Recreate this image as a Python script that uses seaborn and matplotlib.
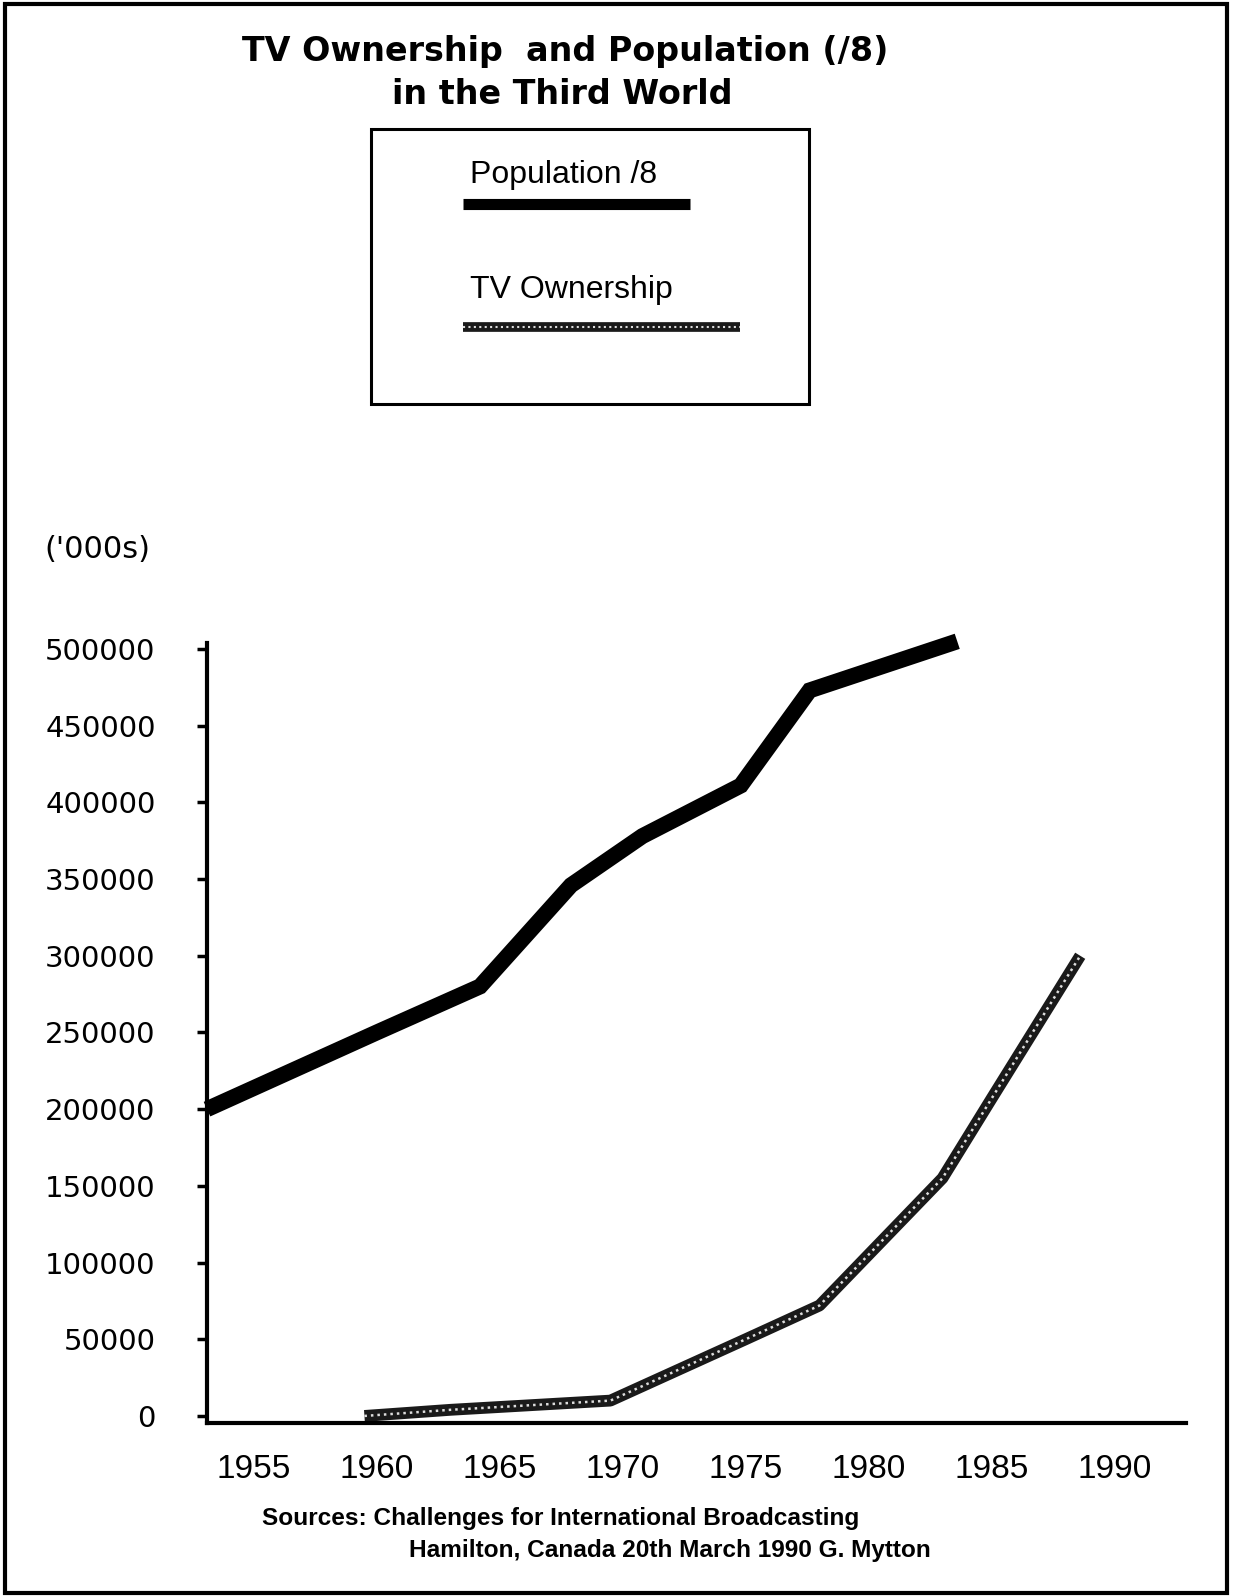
import matplotlib
matplotlib.use("Agg")
import matplotlib.pyplot as plt
import seaborn as sns
import numpy as np
import pandas as pd
from matplotlib.patches import Rectangle
from matplotlib.lines import Line2D

# ---- data ----
pop_years = [1953.1, 1960, 1964.2, 1967.9, 1970.8, 1974.8, 1977.6, 1983.6]
pop_values = [200000, 250000, 280000, 346000, 378000, 411000, 473000, 505000]

tv_years = [1959.5, 1963, 1969.5, 1975, 1978, 1983, 1985, 1988.6]
tv_values = [0, 4000, 10000, 50000, 72000, 155000, 207000, 300000]

y_ticks = [0, 50000, 100000, 150000, 200000, 250000, 300000, 350000, 400000, 450000, 500000]
x_ticks = [1955, 1960, 1965, 1970, 1975, 1980, 1985, 1990]

title_line1 = "TV Ownership  and Population (/8)"
title_line2 = "in the Third World"
legend_labels = ["Population /8", "TV Ownership"]
unit_label = "('000s)"
source_line1 = "Sources: Challenges for International Broadcasting"
source_line2 = "Hamilton, Canada 20th March 1990 G. Mytton"

sns.set_theme(style="white")
plt.rcParams['font.family'] = ['Liberation Sans', 'DejaVu Sans']

W, H = 1240, 1596
fig = plt.figure(figsize=(W / 100, H / 100), dpi=100)

def fx(px):
    return px / W

def fy(py):
    return 1 - py / H

ax = fig.add_axes([fx(207), fy(1423), fx(1186) - fx(207), fy(643) - fy(1423)])

pop_df = pd.DataFrame({"year": pop_years, "value": pop_values})
tv_df = pd.DataFrame({"year": tv_years, "value": tv_values})

sns.lineplot(data=pop_df, x="year", y="value", ax=ax, color="black", lw=11.5,
             solid_capstyle="butt", solid_joinstyle="miter", clip_on=False)
sns.lineplot(data=tv_df, x="year", y="value", ax=ax, color="#1a1a1a", lw=8.5,
             solid_capstyle="butt", clip_on=False)
sns.lineplot(data=tv_df, x="year", y="value", ax=ax, color="#dddddd", lw=1.8,
             linestyle=(0, (1.0, 1.6)), clip_on=False)

ax.set_xlim(1953.1, 1992.9)
ax.set_ylim(-4600, 503900)
ax.set_xlabel("")
ax.set_ylabel("")
ax.set_yticks(y_ticks)
ax.set_yticklabels([str(v) for v in y_ticks], family=['DejaVu Sans'])
ax.set_xticks(x_ticks)
ax.set_xticklabels([str(v) for v in x_ticks])

for s in ["top", "right"]:
    ax.spines[s].set_visible(False)
for s in ["left", "bottom"]:
    ax.spines[s].set_color("black")
    ax.spines[s].set_linewidth(3)

ax.tick_params(axis="y", which="both", left=True, direction="out", length=7,
               width=2.5, color="black", pad=30, labelsize=21, labelcolor="black")
ax.tick_params(axis="x", which="both", bottom=False, length=0, pad=22,
               labelsize=24, labelcolor="black")
ax.grid(False)
ax.set_facecolor("white")

# ---- titles and texts ----
fig.text(fx(565), fy(51), title_line1, ha="center", va="center",
         fontsize=24, fontweight="bold", color="black", family=['DejaVu Sans'])
fig.text(fx(562), fy(94), title_line2, ha="center", va="center",
         fontsize=24, fontweight="bold", color="black", family=['DejaVu Sans'])

fig.text(fx(97), fy(550), unit_label, ha="center", va="center",
         fontsize=22, color="black", family=['DejaVu Sans'])

fig.text(fx(262), fy(1519), source_line1, ha="left", va="center",
         fontsize=17.6, fontweight="bold", color="black")
fig.text(fx(409), fy(1551), source_line2, ha="left", va="center",
         fontsize=17.6, fontweight="bold", color="black")

# ---- legend box (drawn manually to match layout) ----
fig.patches.append(Rectangle((fx(371), fy(404)), fx(809) - fx(371), fy(129) - fy(404),
                             transform=fig.transFigure, fill=False,
                             edgecolor="black", lw=2.2))
fig.text(fx(470), fy(175), legend_labels[0], ha="left", va="center",
         fontsize=23, color="black")
fig.lines.append(Line2D([fx(463), fx(690)], [fy(204), fy(204)],
                        transform=fig.transFigure, color="black", lw=8,
                        solid_capstyle="butt"))
fig.text(fx(470), fy(290), legend_labels[1], ha="left", va="center",
         fontsize=23, color="black")
fig.lines.append(Line2D([fx(463), fx(740)], [fy(327), fy(327)],
                        transform=fig.transFigure, color="#1a1a1a", lw=7,
                        solid_capstyle="butt"))
fig.lines.append(Line2D([fx(463), fx(740)], [fy(327), fy(327)],
                        transform=fig.transFigure, color="#dddddd", lw=1.5,
                        linestyle=(0, (1.0, 1.6))))

# ---- page frame ----
fig.patches.append(Rectangle((fx(5), fy(1593)), fx(1227) - fx(5), fy(4) - fy(1593),
                             transform=fig.transFigure, fill=False,
                             edgecolor="black", lw=3))

fig.savefig("out.png", dpi=100, facecolor="white")
